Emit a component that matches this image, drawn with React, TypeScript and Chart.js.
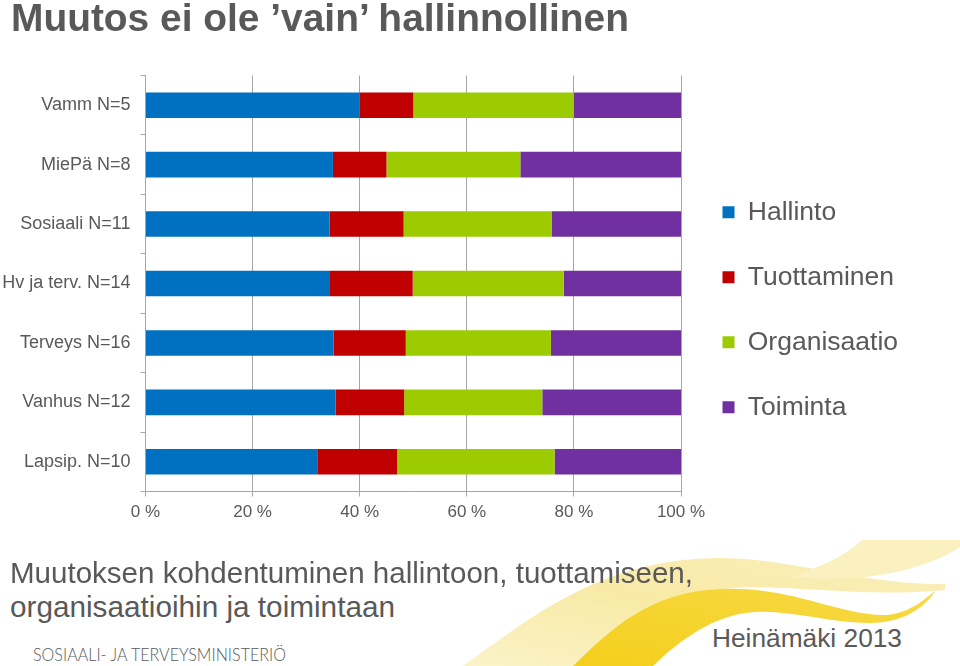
import React, { useEffect, useLayoutEffect, useRef } from "react";
import { Chart, registerables } from "chart.js";

Chart.register(...registerables);

const categories = [
  "Vamm N=5",
  "MiePä N=8",
  "Sosiaali N=11",
  "Hv ja terv. N=14",
  "Terveys N=16",
  "Vanhus N=12",
  "Lapsip. N=10",
];
const seriesNames = ["Hallinto", "Tuottaminen", "Organisaatio", "Toiminta"];
const hallinto = [40, 35, 34.4, 34.3, 35.1, 35.5, 32.2];
const tuottaminen = [10, 10, 13.8, 15.6, 13.5, 12.8, 14.8];
const organisaatio = [30, 25, 27.7, 28.2, 27.1, 25.8, 29.4];
const toiminta = [20, 30, 24.1, 21.9, 24.3, 25.9, 23.6];
const seriesColors = ["#0070c0", "#c00000", "#9bcb00", "#7030a0"];
const xTickMax = 100;
const xTickStep = 20;

const titleText = "Muutos ei ole \u2019vain\u2019 hallinnollinen";
const captionLine1 = "Muutoksen kohdentuminen hallintoon, tuottamiseen,";
const captionLine2 = "organisaatioihin ja toimintaan";
const logoText = "SOSIAALI- JA TERVEYSMINISTERIÖ";
const authorText = "Heinämäki 2013";

const FONT = "'Liberation Sans', Arial, Helvetica, sans-serif";
const GREY = "#595959";
const GRID = "#a6a6a6";

type FitProps = {
  text: string;
  left: number;
  top: number;
  width: number;
  size: number;
  family?: string;
  weight?: number | string;
  color?: string;
};

function FitText({ text, left, top, width, size, family = FONT, weight = 400, color = GREY }: FitProps) {
  const ref = useRef<HTMLSpanElement>(null);
  useLayoutEffect(() => {
    const el = ref.current;
    if (!el) return;
    el.style.transform = "none";
    const w = el.getBoundingClientRect().width;
    if (w > 0) el.style.transform = `scaleX(${width / w})`;
  }, [text, width]);
  return (
    <span
      ref={ref}
      style={{
        position: "absolute",
        left,
        top,
        display: "inline-block",
        whiteSpace: "nowrap",
        fontFamily: family,
        fontWeight: weight as any,
        fontSize: size,
        lineHeight: `${size}px`,
        color,
        transformOrigin: "left top",
        zIndex: 3,
      }}
    >
      {text}
    </span>
  );
}

function Swoosh() {
  return (
    <svg
      width={960}
      height={666}
      style={{ position: "absolute", left: 0, top: 0, zIndex: 0 }}
    >
      <defs>
        <linearGradient id="pale" x1="0" y1="1" x2="1" y2="0">
          <stop offset="0" stopColor="#fbf3c8" />
          <stop offset="0.5" stopColor="#f8eaa6" />
          <stop offset="1" stopColor="#faefbb" />
        </linearGradient>
        <linearGradient id="gold" x1="0" y1="1" x2="1" y2="0">
          <stop offset="0" stopColor="#f4cf1c" />
          <stop offset="1" stopColor="#f7da45" />
        </linearGradient>
      </defs>
      <path
        d="M 463 666 C 530 618, 600 560, 715 558 C 790 557, 860 585, 945 584 L 945 590 C 860 598, 790 584, 730 588 C 665 594, 625 640, 604 666 Z"
        fill="url(#pale)"
      />
      <path
        d="M 862 540 L 960 540 L 960 547 C 925 570, 865 584, 790 577 C 822 567, 846 555, 862 540 Z"
        fill="#faf0c0"
      />
      <path
        d="M 573 666 C 612 628, 650 592, 720 589 C 790 586, 830 612, 880 615 C 905 616, 922 602, 936 590 C 926 606, 905 623, 870 623 C 830 623, 790 610, 755 612 C 715 614, 680 640, 653 666 Z"
        fill="url(#gold)"
      />
    </svg>
  );
}

const legendShift = {
  id: "legendShift",
  afterLayout(chart: any) {
    if (chart.legend) {
      chart.legend.left += 3;
      chart.legend.right += 3;
    }
  },
};

export default function App() {
  const canvasRef = useRef<HTMLCanvasElement>(null);

  useEffect(() => {
    const canvas = canvasRef.current;
    if (!canvas) return;
    Chart.defaults.font.family = FONT;
    const values = [hallinto, tuottaminen, organisaatio, toiminta];
    const chart = new Chart(canvas, {
      type: "bar",
      data: {
        labels: categories,
        datasets: seriesNames.map((name, i) => ({
          label: name,
          data: values[i],
          backgroundColor: seriesColors[i],
          borderWidth: 0,
          barPercentage: 0.43,
          categoryPercentage: 1,
        })),
      },
      plugins: [legendShift],
      options: {
        indexAxis: "y",
        responsive: false,
        animation: false,
        layout: { padding: { top: 75.5, left: 0, bottom: 16, right: 20 } },
        plugins: {
          legend: {
            position: "right",
            align: "center",
            labels: {
              font: { size: 26.5, family: FONT },
              color: GREY,
              boxWidth: 12,
              boxHeight: 12,
              padding: 38.5,
            },
          },
          tooltip: { enabled: false },
          title: { display: false },
        },
        scales: {
          x: {
            stacked: true,
            min: 0,
            max: xTickMax,
            ticks: {
              stepSize: xTickStep,
              callback: (v: any) => `${v} %`,
              font: { size: 17, family: FONT },
              color: GREY,
              padding: 6,
            },
            grid: {
              color: GRID,
              lineWidth: 1,
              drawTicks: true,
              tickLength: 5,
            },
            border: { display: true, color: GRID },
            afterFit: (s: any) => {
              s.height = 52.5;
            },
          },
          y: {
            stacked: true,
            ticks: {
              font: { size: 18, family: FONT },
              color: GREY,
              padding: 10,
            },
            grid: {
              drawOnChartArea: false,
              drawTicks: true,
              tickLength: 5,
              offset: true,
              color: GRID,
            },
            border: { display: true, color: GRID },
            afterFit: (s: any) => {
              s.width = 145.5;
            },
          },
        },
      },
    });
    for (let k = 0; k < 2; k++) {
      const dx = chart.chartArea.right - 681;
      const pad = chart.options.layout!.padding as any;
      pad.right = Math.max(0, pad.right + dx);
      chart.update();
    }
    return () => chart.destroy();
  }, []);

  return (
    <div
      style={{
        position: "absolute",
        left: 0,
        top: 0,
        width: 960,
        height: 666,
        overflow: "hidden",
        background: "#ffffff",
      }}
    >
      <Swoosh />
      <canvas
        ref={canvasRef}
        width={960}
        height={560}
        style={{ position: "absolute", left: 0, top: 0, zIndex: 1 }}
      />
      <FitText text={titleText} left={11} top={-1} width={618} size={38} weight={700} />
      <FitText text={captionLine1} left={10} top={559} width={683} size={29} />
      <FitText text={captionLine2} left={10} top={593} width={385} size={29} />
      <FitText
        text={logoText}
        left={33}
        top={644.5}
        width={253}
        size={18.5}
        family="Lato, 'Open Sans', sans-serif"
        weight={300}
      />
      <FitText text={authorText} left={712} top={626} width={190} size={25} />
    </div>
  );
}
